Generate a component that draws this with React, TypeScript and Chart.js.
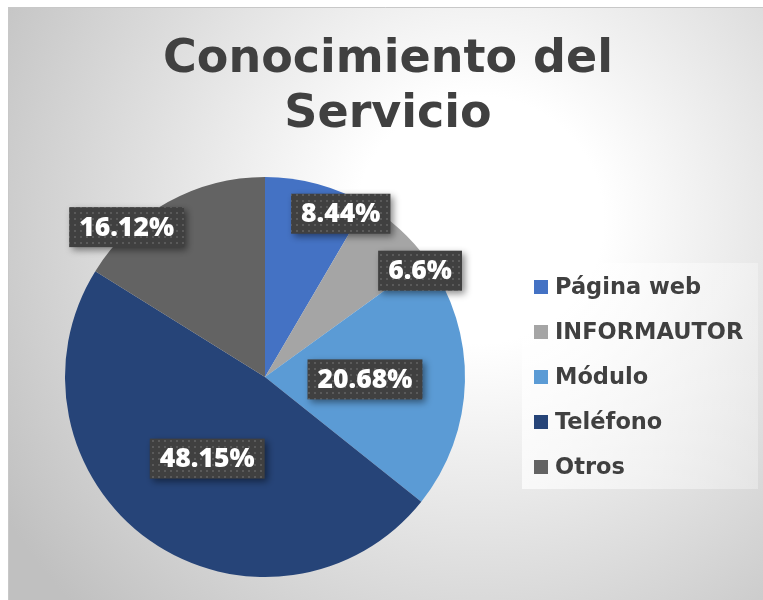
import React, { useEffect, useRef } from "react";
import { Chart, registerables } from "chart.js";

Chart.register(...registerables);

const titleLines = ["Conocimiento del", "Servicio"];
const categories = ["Página web", "INFORMAUTOR", "Módulo", "Teléfono", "Otros"];
const values = [8.44, 6.6, 20.68, 48.15, 16.12];
const sliceColors = ["#4472C4", "#A5A5A5", "#5B9BD5", "#264478", "#636363"];

// label placement relative to each slice's mid-angle (style only)
const labelShiftDeg = [9.7, 13.3, 0, 0, -13.7];
const labelRadiusFrac = [0.9, 0.94, 0.5, 0.5, 1.02];

const WIDE_FONT = "'DejaVu Sans', 'Open Sans', sans-serif";
const LABEL_FONT = "'Open Sans', 'DejaVu Sans', sans-serif";
const TEXT_COLOR = "#404040";

function makePattern(ctx: CanvasRenderingContext2D) {
  const c = document.createElement("canvas");
  c.width = 6;
  c.height = 6;
  const p = c.getContext("2d")!;
  p.fillStyle = "#404040";
  p.fillRect(0, 0, 6, 6);
  p.fillStyle = "#5a5a5a";
  p.fillRect(2, 2, 2, 2);
  return ctx.createPattern(c, "repeat")!;
}

const backgroundPlugin = {
  id: "bgFrame",
  beforeDraw(chart: any) {
    const ctx = chart.ctx as CanvasRenderingContext2D;
    const W = chart.width;
    const H = chart.height;
    ctx.save();
    ctx.fillStyle = "#ffffff";
    ctx.fillRect(0, 0, W, H);
    const x0 = 8, y0 = 7;
    const g = ctx.createRadialGradient(480, 220, 0, 480, 220, 560);
    g.addColorStop(0, "#ffffff");
    g.addColorStop(0.22, "#ffffff");
    g.addColorStop(0.6, "#e0e0e0");
    g.addColorStop(1, "#c0c0c0");
    ctx.fillStyle = g;
    ctx.fillRect(x0, y0, W - x0, H - y0);
    ctx.strokeStyle = "#c8c8c8";
    ctx.lineWidth = 1;
    ctx.beginPath();
    ctx.moveTo(x0 + 0.5, H);
    ctx.lineTo(x0 + 0.5, y0 + 0.5);
    ctx.lineTo(W, y0 + 0.5);
    ctx.stroke();
    ctx.restore();
  },
};

const labelPlugin = {
  id: "sliceLabels",
  afterDatasetsDraw(chart: any) {
    const ctx = chart.ctx as CanvasRenderingContext2D;
    const meta = chart.getDatasetMeta(0);
    const pattern = makePattern(ctx);
    meta.data.forEach((arc: any, i: number) => {
      const { x, y, startAngle, endAngle, outerRadius } = arc.getProps(
        ["x", "y", "startAngle", "endAngle", "outerRadius"],
        true
      );
      const mid = (startAngle + endAngle) / 2 + (labelShiftDeg[i] * Math.PI) / 180;
      const r = outerRadius * labelRadiusFrac[i];
      const cx = x + Math.cos(mid) * r;
      const cy = y + Math.sin(mid) * r;
      const text = `${values[i]}%`;
      ctx.save();
      ctx.font = `800 26.5px ${LABEL_FONT}`;
      const tw = ctx.measureText(text).width;
      const bw = tw + 20;
      const bh = 40;
      ctx.shadowColor = "rgba(0,0,0,0.45)";
      ctx.shadowBlur = 7;
      ctx.shadowOffsetX = 3;
      ctx.shadowOffsetY = 3;
      ctx.fillStyle = pattern;
      ctx.fillRect(cx - bw / 2, cy - bh / 2, bw, bh);
      ctx.shadowColor = "transparent";
      ctx.fillStyle = "#ffffff";
      ctx.textAlign = "center";
      ctx.textBaseline = "middle";
      ctx.fillText(text, cx, cy + 1);
      ctx.restore();
    });
  },
};

const titleLegendPlugin = {
  id: "titleLegend",
  afterDraw(chart: any) {
    const ctx = chart.ctx as CanvasRenderingContext2D;
    ctx.save();
    // title
    ctx.fillStyle = TEXT_COLOR;
    ctx.font = `bold 46px ${WIDE_FONT}`;
    ctx.textAlign = "center";
    ctx.textBaseline = "alphabetic";
    ctx.fillText(titleLines[0], 388, 72);
    ctx.fillText(titleLines[1], 388, 127);

    // legend
    const lx = 522, ly = 263, lw = 236, lh = 226;
    const lg = ctx.createLinearGradient(lx, 0, lx + lw, 0);
    lg.addColorStop(0, "rgba(255,255,255,0.7)");
    lg.addColorStop(1, "rgba(255,255,255,0.3)");
    ctx.fillStyle = lg;
    ctx.fillRect(lx, ly, lw, lh);
    const labels: string[] = chart.data.labels;
    const colors: string[] = chart.data.datasets[0].backgroundColor;
    ctx.font = `bold 22.5px ${WIDE_FONT}`;
    ctx.textAlign = "left";
    ctx.textBaseline = "middle";
    labels.forEach((lab, i) => {
      const cy = 287 + i * 45;
      ctx.fillStyle = colors[i];
      ctx.fillRect(534, cy - 7, 14, 14);
      ctx.fillStyle = TEXT_COLOR;
      ctx.fillText(lab, 555, cy + 1);
    });
    ctx.restore();
  },
};

export default function App() {
  const ref = useRef<HTMLCanvasElement | null>(null);
  useEffect(() => {
    if (!ref.current) return;
    const chart = new Chart(ref.current, {
      type: "pie",
      data: {
        labels: categories,
        datasets: [
          {
            data: values,
            backgroundColor: sliceColors,
            borderWidth: 0,
          },
        ],
      },
      options: {
        animation: false,
        responsive: false,
        layout: { padding: { left: 65, right: 298, top: 177, bottom: 23 } },
        plugins: {
          legend: { display: false },
          title: { display: false },
          tooltip: { enabled: false },
        },
      },
      plugins: [backgroundPlugin, labelPlugin, titleLegendPlugin],
    });
    return () => chart.destroy();
  }, []);
  return (
    <div style={{ position: "absolute", left: 0, top: 0, width: 763, height: 600 }}>
      <canvas ref={ref} width={763} height={600} style={{ display: "block" }} />
    </div>
  );
}
